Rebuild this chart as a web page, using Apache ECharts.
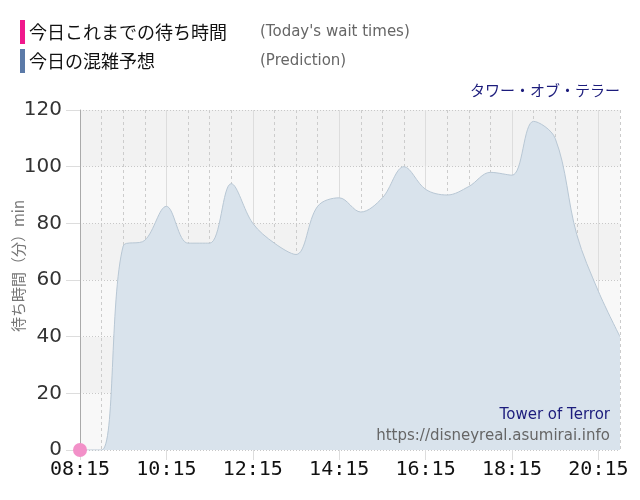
<!DOCTYPE html>
<html>
<head>
<meta charset="utf-8">
<script src="https://cdn.jsdelivr.net/npm/echarts@6/dist/echarts.min.js"></script>
<style>
html,body{margin:0;padding:0;background:#fff;}
#chart{width:640px;height:500px;}
</style>
</head>
<body>
<div id="chart"></div>
<script>
// ---- data ----
const times = ['08:15','08:45','09:15','09:45','10:15','10:45','11:15','11:45','12:15','12:45','13:15','13:45','14:15','14:45','15:15','15:45','16:15','16:45','17:15','17:45','18:15','18:45','19:15','19:45','20:15','20:45'];
const prediction = [0,0,72,74,86,73,73,94,80,73,69,86,89,84,89,100,92,90,93,98,97,116,110,76,56,40];
const todayWait = [0];
const yTicks = [0,20,40,60,80,100,120];
const legendTitles = ['今日これまでの待ち時間','今日の混雑予想'];
const legendSubs = ["(Today's wait times)",'(Prediction)'];
const attraction = 'タワー・オブ・テラー';
const attractionEn = 'Tower of Terror';
const siteUrl = 'https://disneyreal.asumirai.info';
const yName = '待ち時間（分）min';

const jp = '"Noto Sans CJK JP", "DejaVu Sans", sans-serif';
const lat = '"DejaVu Sans", Verdana, sans-serif';

const chart = echarts.init(document.getElementById('chart'), null, {renderer:'canvas'});
chart.setOption({
  animation:false,
  backgroundColor:'#fff',
  grid:{left:80,right:20,top:110,bottom:50,containLabel:false},
  graphic:[
    {type:'rect',shape:{x:20,y:20,width:5,height:24},style:{fill:'#f0188c'}},
    {type:'rect',shape:{x:20,y:49,width:5,height:24},style:{fill:'#5b7aa8'}},
    {type:'text',x:29,y:32,style:{text:legendTitles[0],font:'18px '+jp,fill:'#111',textVerticalAlign:'middle'}},
    {type:'text',x:29,y:61,style:{text:legendTitles[1],font:'18px '+jp,fill:'#111',textVerticalAlign:'middle'}},
    {type:'text',x:260,y:32,style:{text:legendSubs[0],font:'15px '+lat,fill:'#666',textVerticalAlign:'middle'}},
    {type:'text',x:260,y:61,style:{text:legendSubs[1],font:'15px '+lat,fill:'#666',textVerticalAlign:'middle'}},
    {type:'text',x:620,y:90,style:{text:attraction,font:'15px '+jp,fill:'#1c1c7c',textAlign:'right',textVerticalAlign:'middle'}},
    {type:'text',x:610,y:415,z:10,style:{text:attractionEn,font:'15px '+lat,fill:'#1c1c7c',textAlign:'right',textVerticalAlign:'middle'}},
    {type:'text',x:610,y:436,z:10,style:{text:siteUrl,font:'15px '+lat,fill:'#666',textAlign:'right',textVerticalAlign:'middle'}},
    {type:'text',x:18,y:266,rotation:Math.PI/2,style:{text:yName,font:'15px '+jp,fill:'#777',textAlign:'center',textVerticalAlign:'middle'}}
  ],
  xAxis:[{
    type:'category',data:times,boundaryGap:false,
    axisLine:{show:false},
    axisTick:{show:true,interval:3,length:10,lineStyle:{color:'#ddd'}},
    axisLabel:{interval:3,color:'#111',fontSize:20,fontFamily:'"DejaVu Sans Mono", monospace',margin:10},
    splitLine:{show:true,interval:0,lineStyle:{color:'#ccc',type:[3,3],width:1}}
  },{
    type:'category',data:times,boundaryGap:false,position:'bottom',
    axisLine:{show:false},axisTick:{show:false},axisLabel:{show:false},
    splitLine:{show:true,interval:3,lineStyle:{color:'#ddd',type:'solid',width:1}}
  }],
  yAxis:{
    type:'value',min:yTicks[0],max:yTicks[yTicks.length-1],interval:20,
    axisLine:{show:true,lineStyle:{color:'#aaa'}},
    axisTick:{show:true,length:14,lineStyle:{color:'#ddd'}},
    axisLabel:{color:'#333',fontSize:20,fontFamily:lat,margin:18},
    splitLine:{lineStyle:{color:'#c8c8c8',type:[1,2]}},
    splitArea:{show:true,areaStyle:{color:['#f8f8f8','#f2f2f2']}}
  },
  series:[{
    name:legendTitles[1],type:'line',data:prediction,smooth:0.35,symbol:'none',
    lineStyle:{color:'#b8c7d4',width:1},
    areaStyle:{color:'#d9e3ec',opacity:1},
    z:2
  },{
    name:legendTitles[0],type:'line',data:todayWait,symbol:'circle',symbolSize:14,
    itemStyle:{color:'#f290c8'},lineStyle:{color:'#f0188c',width:2},z:5
  }]
});
</script>
</body>
</html>
